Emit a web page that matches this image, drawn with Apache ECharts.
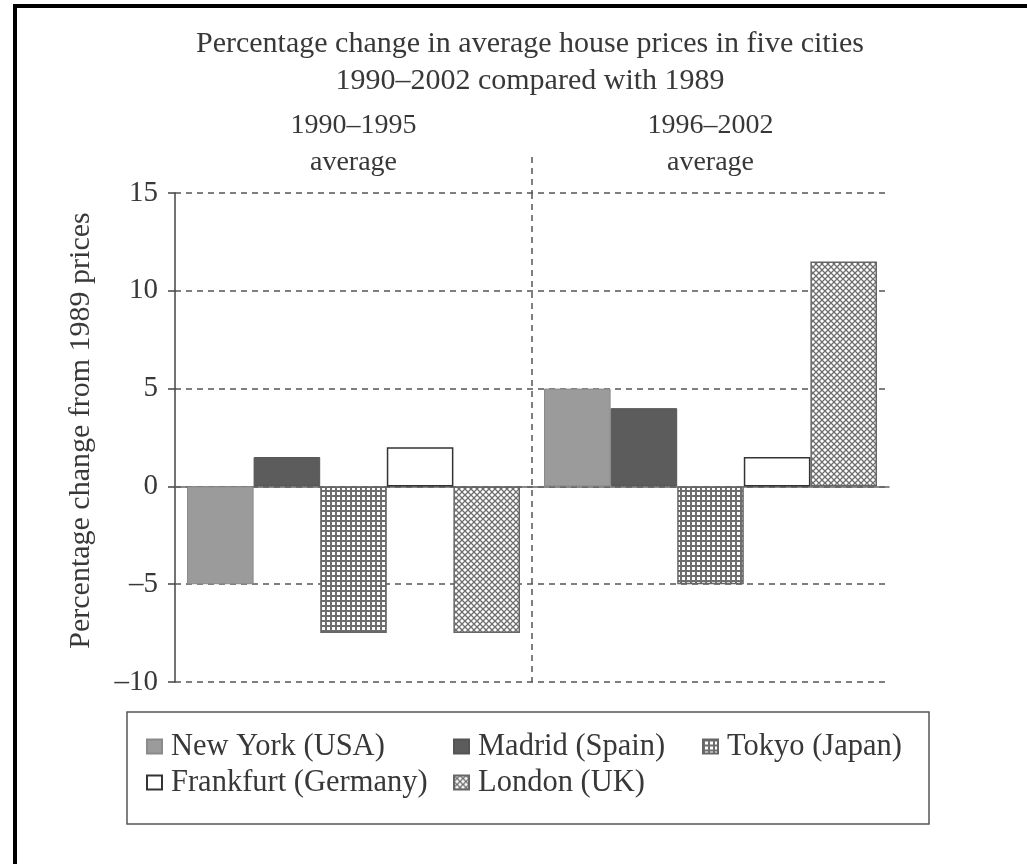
<!DOCTYPE html>
<html>
<head>
<meta charset="utf-8">
<script src="https://cdn.jsdelivr.net/npm/echarts@6/dist/echarts.min.js"></script>
<style>
html,body{margin:0;padding:0;background:#fff;}
#main{width:1027px;height:864px;}
</style>
</head>
<body>
<div id="main"></div>
<script>
// ---- data ----
const titleLines = ['Percentage change in average house prices in five cities', '1990–2002 compared with 1989'];
const periods = ['1990–1995\naverage', '1996–2002\naverage'];
const seriesNames = ['New York (USA)', 'Madrid (Spain)', 'Tokyo (Japan)', 'Frankfurt (Germany)', 'London (UK)'];
const newYork = [-5, 5];
const madrid = [1.5, 4];
const tokyo = [-7.5, -5];
const frankfurt = [2, 1.5];
const london = [-7.5, 11.5];
const yAxisName = 'Percentage change from 1989 prices';

// ---- patterns ----
function gridPattern() {
  const c = document.createElement('canvas');
  c.width = 5; c.height = 5;
  const g = c.getContext('2d');
  g.fillStyle = '#ffffff'; g.fillRect(0, 0, 5, 5);
  g.fillStyle = '#6e6e6e';
  g.fillRect(0, 0, 5, 2);
  g.fillRect(0, 0, 2, 5);
  return c;
}
function crossPattern() {
  const c = document.createElement('canvas');
  c.width = 6; c.height = 6;
  const g = c.getContext('2d');
  g.fillStyle = '#ffffff'; g.fillRect(0, 0, 6, 6);
  g.strokeStyle = '#6e6e6e'; g.lineWidth = 1.3;
  g.beginPath();
  g.moveTo(-1, -1); g.lineTo(7, 7);
  g.moveTo(7, -1); g.lineTo(-1, 7);
  g.stroke();
  return c;
}

const FONT = 'Liberation Serif';
const TXT = '#383838';

const styles = [
  {color: '#9b9b9b', borderColor: '#8a8a8a', borderWidth: 1},
  {color: '#5c5c5c', borderColor: '#555', borderWidth: 1},
  {color: {image: gridPattern(), repeat: 'repeat'}, borderColor: '#666', borderWidth: 1.5},
  {color: '#ffffff', borderColor: '#333', borderWidth: 1.5},
  {color: {image: crossPattern(), repeat: 'repeat'}, borderColor: '#666', borderWidth: 1.5}
];
const values = [newYork, madrid, tokyo, frankfurt, london];

const legendPos = [
  {left: 146, top: 731},
  {left: 453, top: 731},
  {left: 702, top: 731},
  {left: 146, top: 767},
  {left: 453, top: 767}
];

const chart = echarts.init(document.getElementById('main'));

const frame = [
  {type: 'rect', shape: {x: 13, y: 4, width: 1014, height: 4}, style: {fill: '#000'}, silent: true},
  {type: 'rect', shape: {x: 13, y: 4, width: 4, height: 860}, style: {fill: '#000'}, silent: true},
  {type: 'rect', shape: {x: 127, y: 712, width: 802, height: 112}, style: {fill: 'none', stroke: '#555', lineWidth: 1.5}, silent: true}
];

const option = {
  backgroundColor: '#ffffff',
  animation: false,
  title: {
    text: titleLines.join('\n'),
    left: 530, top: 26, textAlign: 'center', padding: 0,
    textStyle: {fontFamily: FONT, fontSize: 30, fontWeight: 'normal', color: TXT, lineHeight: 37}
  },
  legend: seriesNames.map((n, i) => ({
    data: [n],
    left: legendPos[i].left, top: legendPos[i].top,
    padding: 0,
    icon: 'rect',
    itemWidth: 15, itemHeight: 14,
    selectedMode: false,
    textStyle: {fontFamily: FONT, fontSize: 30.5, color: TXT, lineHeight: 30, padding: [0, 0, 0, 4]}
  })),
  grid: {left: 175, right: 138, top: 193, height: 489},
  xAxis: [
    {
      type: 'category', data: periods,
      axisLine: {show: true, onZero: true, lineStyle: {color: '#666', width: 1.5}},
      axisTick: {show: false}, axisLabel: {show: false}, splitLine: {show: false}
    },
    {
      type: 'value', min: 0, max: 2, interval: 1,
      axisLine: {show: false}, axisTick: {show: false}, axisLabel: {show: false},
      splitLine: {show: true, showMinLine: false, showMaxLine: false,
        lineStyle: {color: '#555', width: 1.5, type: [6, 5]}}
    },
    {
      type: 'category', data: periods, position: 'top',
      axisLine: {show: false, onZero: false}, axisTick: {show: false},
      axisLabel: {show: true, margin: 12, fontFamily: FONT, fontSize: 28, color: TXT, lineHeight: 37, align: 'center'},
      splitLine: {show: false}
    }
  ],
  yAxis: {
    type: 'value', min: -10, max: 15, interval: 5,
    name: yAxisName, nameLocation: 'middle', nameGap: 79,
    nameTextStyle: {fontFamily: FONT, fontSize: 30, color: TXT, padding: [0, 0, 0, 14]},
    axisLine: {show: true, lineStyle: {color: '#444', width: 1.5}},
    axisTick: {show: true, length: 7, lineStyle: {color: '#444', width: 1.5}},
    axisLabel: {margin: 17, fontFamily: FONT, fontSize: 29, color: TXT,
      formatter: v => v < 0 ? '–' + Math.abs(v) : String(v)},
    splitLine: {show: true, lineStyle: {color: '#555', width: 1.5, type: [6, 5]}}
  },
  series: seriesNames.map((n, i) => ({
    name: n, type: 'bar', data: values[i],
    xAxisIndex: 0, yAxisIndex: 0,
    barWidth: 66.6, barGap: '0%',
    itemStyle: styles[i],
    emphasis: {disabled: true}
  })),
  graphic: frame
};
chart.setOption(option);

// extend the period divider above the plot area
const divX = chart.convertToPixel({xAxisIndex: 1}, 1);
const topY = chart.convertToPixel({yAxisIndex: 0}, 15);
chart.setOption({
  graphic: frame.concat([
    {type: 'line', shape: {x1: divX, y1: 157, x2: divX, y2: topY}, style: {stroke: '#555', lineWidth: 1.5, lineDash: [6, 5]}, silent: true}
  ])
});
</script>
</body>
</html>
